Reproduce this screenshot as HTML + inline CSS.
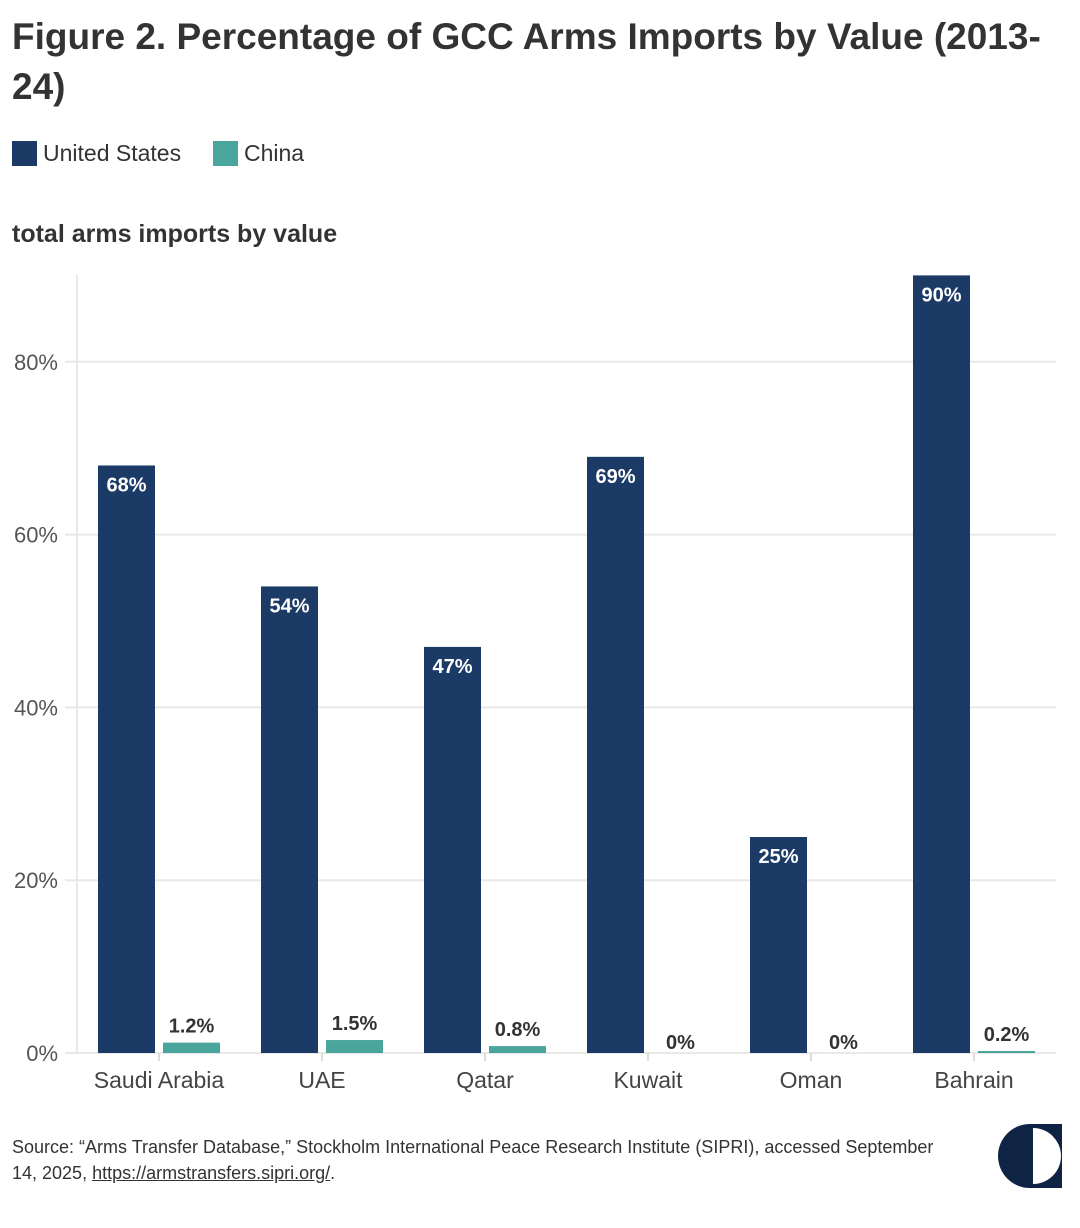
<!DOCTYPE html>
<html><head><meta charset="utf-8"><style>
body{margin:0;background:#fff;font-family:"Liberation Sans",sans-serif;}
.wrap{position:relative;width:1080px;height:1228px;overflow:hidden;}
h1{position:absolute;left:12px;top:12px;margin:0;width:1060px;font-size:37px;line-height:50px;font-weight:bold;color:#333;}
.leg{position:absolute;top:140px;font-size:23px;color:#333;display:flex;align-items:center;}
.sw{width:25px;height:25px;margin-right:6px;}
.sub{position:absolute;left:12px;top:220px;font-size:25px;font-weight:bold;color:#333;}
.src{position:absolute;left:12px;top:1134px;font-size:18px;line-height:26px;color:#333;width:950px;}
</style></head><body><div class="wrap">
<h1>Figure 2. Percentage of GCC Arms Imports by Value (2013-24)</h1>
<div class="leg" style="left:12px"><div class="sw" style="background:#1b3a66"></div>United States</div>
<div class="leg" style="left:213px"><div class="sw" style="background:#4aa59c"></div>China</div>
<div class="sub">total arms imports by value</div>
<svg id="chart" width="1080" height="1228" style="position:absolute;left:0;top:0"></svg>
<div class="src">Source: “Arms Transfer Database,” Stockholm International Peace Research Institute (SIPRI), accessed September 14, 2025, <u>https://armstransfers.sipri.org/</u>.</div>
<svg width="70" height="70" style="position:absolute;left:996px;top:1122px">
<rect x="34" y="2" width="32" height="64" fill="#0f2444"/>
<path d="M37 6 A28 28 0 0 1 37 62 Z" fill="#fff"/>
<path d="M34 2 A32 32 0 0 0 34 66 Z" fill="#0f2444"/>
</svg>
</div>
<script>
const categories=["Saudi Arabia","UAE","Qatar","Kuwait","Oman","Bahrain"];
const usValues=[68,54,47,69,25,90];
const chinaValues=[1.2,1.5,0.8,0,0,0.2];
const usLabels=["68%","54%","47%","69%","25%","90%"];
const chinaLabels=["1.2%","1.5%","0.8%","0%","0%","0.2%"];
const yTicks=[0,20,40,60,80];
const yTickLabels=["0%","20%","40%","60%","80%"];
const NS="http://www.w3.org/2000/svg";
const svg=document.getElementById('chart');
const y0=1053,pxPer=8.64,x0=77,step=163;
const y=v=>y0-v*pxPer;
const cx=i=>x0+82+i*step;
function mk(t,a,txt){const e=document.createElementNS(NS,t);for(const k in a)e.setAttribute(k,a[k]);if(txt!==undefined)e.textContent=txt;svg.appendChild(e);return e;}
yTicks.forEach((t,i)=>{
 const g=mk('line',{x1:65,x2:1056,y1:y(t),y2:y(t),stroke:'#e8e8e8','stroke-width':2});
 
 
 const l=mk('text',{x:58,y:y(t)+8,'text-anchor':'end','font-size':22,fill:'#555','font-family':'Liberation Sans'},yTickLabels[i]);
 
 
});
const ax=mk('line',{x1:x0,x2:x0,y1:275,y2:y0,stroke:'#e8e8e8','stroke-width':2});


categories.forEach((c,i)=>{
 const m=cx(i);
 const tk=mk('line',{x1:m,x2:m,y1:y0,y2:y0+8,stroke:'#ddd','stroke-width':2});
 
 
 const b=mk('rect',{x:m-61,y:y(usValues[i]),width:57,height:usValues[i]*pxPer,fill:'#1b3a66'});
 
 
 const bl=mk('text',{x:m-32.5,y:y(usValues[i])+26,'text-anchor':'middle','font-size':20,'font-weight':'bold',fill:'#fff','font-family':'Liberation Sans'},usLabels[i]);
 
 
 const h=Math.max(chinaValues[i]*pxPer,chinaValues[i]>0?2:0);
 const cb=mk('rect',{x:m+4,y:y0-h,width:57,height:h,fill:'#4aa59c'});
 
 
 const cl=mk('text',{x:m+32.5,y:y0-h-(h>0?10:4),'text-anchor':'middle','font-size':20,'font-weight':'bold',fill:'#333','font-family':'Liberation Sans'},chinaLabels[i]);
 
 
 const xl=mk('text',{x:m,y:1088,'text-anchor':'middle','font-size':23,fill:'#444','font-family':'Liberation Sans'},c);
 
 
});
</script>
</body></html>
